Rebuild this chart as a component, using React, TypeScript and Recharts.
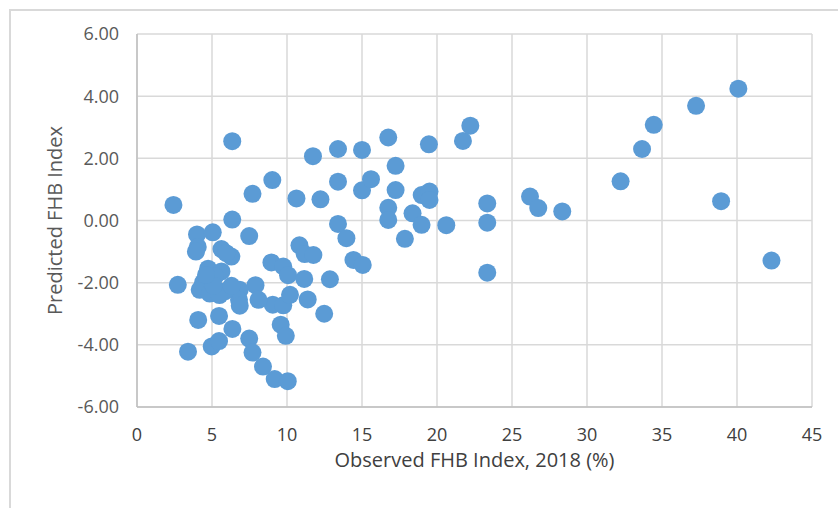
import React from "react";
import {
  ScatterChart,
  Scatter,
  XAxis,
  YAxis,
  CartesianGrid,
} from "recharts";

// Observed FHB index 2018 (%) vs predicted FHB index
const observed = [
  2.43, 2.72, 3.4, 4.0, 4.05, 3.93, 5.05, 4.08, 4.98, 5.47, 5.47, 6.35, 6.35, 6.36,
  7.48, 7.7, 9.02, 7.48, 7.7, 8.4, 9.18, 10.05, 9.58, 9.92, 8.96, 9.75, 10.07, 9.05,
  9.75, 10.2, 7.9, 8.1, 6.85, 6.8, 6.85, 10.63, 12.23, 11.73, 13.4, 13.4, 13.4, 13.96,
  10.83, 11.18, 11.76, 11.15, 11.38, 12.48, 12.86, 14.43, 15.05, 15.0, 15.0, 15.6,
  16.75, 17.24, 17.24, 16.75, 16.75, 17.86, 18.37, 18.98, 19.5, 19.5, 18.97, 19.46,
  20.62, 21.73, 22.22, 23.35, 23.35, 23.35, 26.2, 26.75, 28.35, 32.24, 33.67, 34.45,
  37.27, 40.09, 38.94, 42.3, 5.63, 6.29, 5.95, 4.74, 5.63, 5.2, 4.4, 4.18, 4.85, 5.85,
  5.5, 5.1, 4.6, 6.3,
];
const predicted = [
  0.5, -2.07, -4.22, -0.45, -0.85, -1.0, -0.38, -3.2, -4.05, -3.88, -3.07, 0.03, 2.55, -3.49,
  -0.5, 0.86, 1.3, -3.8, -4.25, -4.7, -5.1, -5.17, -3.35, -3.71, -1.35, -1.48, -1.76, -2.71,
  -2.73, -2.39, -2.08, -2.55, -2.23, -2.55, -2.74, 0.71, 0.68, 2.07, 2.3, 1.25, -0.11, -0.57,
  -0.8, -1.08, -1.11, -1.88, -2.54, -3.0, -1.89, -1.27, -1.43, 2.27, 0.97, 1.33,
  2.67, 1.76, 0.98, 0.41, 0.02, -0.59, 0.23, 0.82, 0.93, 0.66, -0.14, 2.45,
  -0.15, 2.56, 3.05, 0.55, -0.07, -1.68, 0.77, 0.4, 0.29, 1.26, 2.3, 3.08,
  3.69, 4.24, 0.62, -1.29, -0.92, -1.16, -1.05, -1.55, -1.64, -1.8, -2.0, -2.23, -2.35, -2.28,
  -2.4, -2.1, -1.75, -2.1,
];
const xTicks = [0, 5, 10, 15, 20, 25, 30, 35, 40, 45];
const yTicks = [-6, -4, -2, 0, 2, 4, 6];

const data = observed.map((x, i) => ({ x, y: predicted[i] }));

const FONT = "'Open Sans', 'Liberation Sans', sans-serif";

const Dot = (props: any) => (
  <circle cx={props.cx} cy={props.cy} r={9} fill="#5B9BD5" />
);

export default function App() {
  return (
    <div
      style={{
        position: "absolute",
        left: 0,
        top: 0,
        width: 838,
        height: 508,
        overflow: "hidden",
        background: "#fff",
      }}
    >
      <div
        style={{
          position: "absolute",
          left: 9,
          top: 9,
          width: 900,
          height: 600,
          border: "2px solid #d9d9d9",
        }}
      />
      <div style={{ position: "absolute", left: 0, top: 0 }}>
        <ScatterChart
          width={838}
          height={508}
          margin={{ top: 34, right: 26, bottom: 41, left: 0 }}
        >
          <CartesianGrid stroke="#d9d9d9" strokeWidth={1.5} />
          <XAxis
            type="number"
            dataKey="x"
            domain={[0, 45]}
            ticks={xTicks}
            interval={0}
            height={60}
            stroke="#bfbfbf"
            strokeWidth={1.5}
            tickLine={false}
            tickSize={6}
            tickMargin={15}
            tick={{ fill: "#404040", fontSize: 18, fontFamily: FONT }}
            label={{
              value: "Observed FHB Index, 2018 (%)",
              position: "insideBottom",
              offset: 0,
              style: { fill: "#404040", fontSize: 20, fontFamily: FONT },
            }}
          />
          <YAxis
            type="number"
            dataKey="y"
            domain={[-6, 6]}
            ticks={yTicks}
            interval={0}
            width={137}
            stroke="#bfbfbf"
            strokeWidth={1.5}
            tickLine={false}
            tickSize={6}
            tickMargin={12}
            tickFormatter={(v: number) => v.toFixed(2)}
            tick={{ fill: "#595959", fontSize: 18, fontFamily: FONT }}
            label={{
              value: "Predicted FHB Index",
              angle: -90,
              position: "insideLeft",
              offset: 55,
              style: {
                fill: "#595959",
                fontSize: 20,
                fontFamily: FONT,
                textAnchor: "middle",
              },
            }}
          />
          <Scatter data={data} shape={Dot} isAnimationActive={false} />
        </ScatterChart>
      </div>
    </div>
  );
}
